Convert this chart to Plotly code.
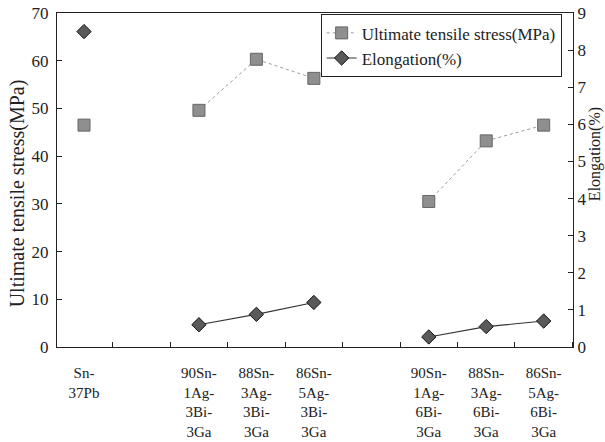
import plotly.graph_objects as go

# ---- data ----
categories = ["Sn-<br>37Pb", "",
              "90Sn-<br>1Ag-<br>3Bi-<br>3Ga", "88Sn-<br>3Ag-<br>3Bi-<br>3Ga", "86Sn-<br>5Ag-<br>3Bi-<br>3Ga", "",
              "90Sn-<br>1Ag-<br>6Bi-<br>3Ga", "88Sn-<br>3Ag-<br>6Bi-<br>3Ga", "86Sn-<br>5Ag-<br>6Bi-<br>3Ga"]
uts_mpa = [46.5, None, 49.6, 60.3, 56.3, None, 30.5, 43.2, 46.5]
elongation_pct = [8.5, None, 0.6, 0.88, 1.2, None, 0.27, 0.55, 0.7]
left_ticks = [0, 10, 20, 30, 40, 50, 60, 70]
right_ticks = [0, 1, 2, 3, 4, 5, 6, 7, 8, 9]

xpos = list(range(len(categories)))
label_pos = [i for i, c in enumerate(categories) if c]
label_txt = [c for c in categories if c]

SERIF = "'Liberation Serif', 'Times New Roman', 'DejaVu Serif', serif"
INK = "#222222"

fig = go.Figure()
fig.add_trace(go.Scatter(
    x=xpos, y=uts_mpa, name="Ultimate tensile stress(MPa)",
    mode="lines+markers", connectgaps=False,
    line=dict(color="#9a9a9a", width=1, dash="dot"),
    marker=dict(symbol="square", size=12, color="#8f8f8f",
                line=dict(color="#666666", width=1)),
    yaxis="y"))
fig.add_trace(go.Scatter(
    x=xpos, y=elongation_pct, name="Elongation(%)",
    mode="lines+markers", connectgaps=False,
    line=dict(color="#333333", width=1.2),
    marker=dict(symbol="diamond", size=11, color="#5a5a5a",
                line=dict(color="#111111", width=1)),
    yaxis="y2"))

fig.update_layout(
    width=605, height=442,
    margin=dict(l=57, r=32, t=13, b=95, autoexpand=False),
    paper_bgcolor="white", plot_bgcolor="white",
    font=dict(family=SERIF, size=16, color=INK),
    showlegend=True,
    legend=dict(x=0.978, xanchor="right", y=0.996, yanchor="top",
                bgcolor="white", bordercolor=INK, borderwidth=1,
                font=dict(family=SERIF, size=17, color=INK),
                tracegroupgap=0),
    xaxis=dict(range=[-0.47, 8.51], showgrid=False, zeroline=False,
               showline=True, linecolor=INK, linewidth=1, mirror=True,
               automargin=False,
               tickmode="array", tickvals=label_pos, ticktext=label_txt,
               ticks="", tickfont=dict(family=SERIF, size=15, color=INK),
               ticklabelstandoff=12,
               minor=dict(tickmode="linear", tick0=0.5, dtick=1,
                          ticks="inside", ticklen=5, tickcolor=INK)),
    yaxis=dict(range=[0, 70], tickvals=left_ticks, showgrid=False, zeroline=False,
               showline=True, linecolor=INK, linewidth=1, automargin=False,
               ticks="inside", ticklen=5, tickcolor=INK,
               tickfont=dict(family=SERIF, size=17, color=INK),
               ticklabelstandoff=4),
    yaxis2=dict(range=[0, 9], tickvals=right_ticks, overlaying="y", side="right",
                showgrid=False, zeroline=False, automargin=False,
                showline=True, linecolor=INK, linewidth=1,
                ticks="inside", ticklen=5, tickcolor=INK,
                tickfont=dict(family=SERIF, size=17, color=INK),
                ticklabelstandoff=0),
    annotations=[
        dict(text="Ultimate tensile stress(MPa)", textangle=-90,
             xref="paper", yref="paper", x=-0.0775, y=0.46,
             xanchor="center", yanchor="middle", showarrow=False,
             font=dict(family=SERIF, size=20, color=INK)),
        dict(text="Elongation(%)", textangle=-90,
             xref="paper", yref="paper", x=1.043, y=0.578,
             xanchor="center", yanchor="middle", showarrow=False,
             font=dict(family=SERIF, size=16, color=INK)),
    ],
)

fig.write_html("out.html", config={"displayModeBar": False},
               post_script="document.body.style.margin='0px';")
